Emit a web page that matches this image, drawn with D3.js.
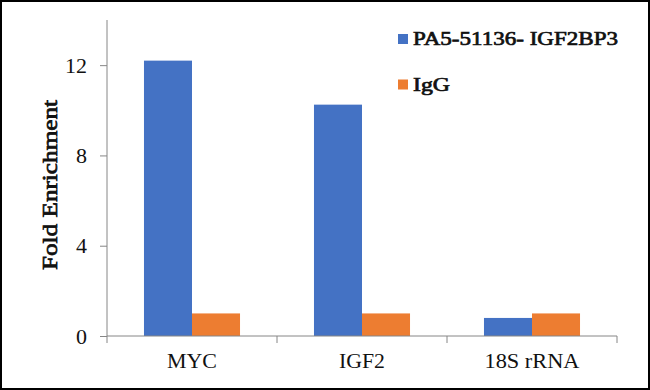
<!DOCTYPE html>
<html>
<head>
<meta charset="utf-8">
<script src="https://cdn.jsdelivr.net/npm/d3@7"></script>
<style>
  body { margin: 0; background: #fff; }
  svg { display: block; }
  svg text { font-family: "Liberation Serif", serif; font-weight: normal; }
</style>
</head>
<body>
<div class="chart"></div>
<script>
var categories = ["MYC", "IGF2", "18S rRNA"];
var categoryLabelWidths = [50, 46, 95];
var seriesNames = ["PA5-51136- IGF2BP3", "IgG"];
var legendLabelWidths = [205, 37];
var antibodyValues = [12.2, 10.25, 0.8];
var iggValues = [1.0, 1.0, 1.0];
var yTicks = [0, 4, 8, 12];
var colors = ["#4472C4", "#ED7D31"];

var svgWidth = 650;
var svgHeight = 390;
var margin = { top: 20, right: 33, bottom: 54, left: 107 };
var width = svgWidth - margin.left - margin.right;
var height = svgHeight - margin.top - margin.bottom;

var svg = d3.select(".chart")
  .append("svg")
  .attr("width", svgWidth)
  .attr("height", svgHeight);

// outer frame
svg.append("rect")
  .attr("x", 1).attr("y", 1)
  .attr("width", svgWidth - 2).attr("height", svgHeight - 2)
  .attr("fill", "#fff")
  .attr("stroke", "#000")
  .attr("stroke-width", 2);

var chartGroup = svg.append("g")
  .attr("transform", `translate(${margin.left}, ${margin.top})`);

var x0 = d3.scaleBand()
  .domain(categories)
  .range([0, width])
  .paddingInner(0.435)
  .paddingOuter(0.2175);

var x1 = d3.scaleBand()
  .domain(seriesNames)
  .range([0, x0.bandwidth()]);

var y = d3.scaleLinear()
  .domain([0, 14])
  .range([height, 0]);

var rows = categories.map(function (c, i) {
  return { cat: c, vals: [antibodyValues[i], iggValues[i]] };
});

// bars
var groups = chartGroup.selectAll(".grp")
  .data(rows)
  .enter()
  .append("g")
  .attr("transform", d => `translate(${x0(d.cat)},0)`);

groups.selectAll("rect")
  .data(d => d.vals.map((v, i) => ({ name: seriesNames[i], v: v, i: i })))
  .enter()
  .append("rect")
  .attr("x", d => x1(d.name))
  .attr("y", d => y(d.v))
  .attr("width", x1.bandwidth())
  .attr("height", d => height - y(d.v))
  .attr("fill", d => colors[d.i]);

// y axis
var leftAxis = d3.axisLeft(y).tickValues(yTicks).tickSize(7).tickPadding(13);
var yAxisG = chartGroup.append("g").call(leftAxis);
yAxisG.select(".domain").attr("stroke", "#868686").attr("d", `M0,0V${height}`);
yAxisG.selectAll(".tick line").attr("stroke", "#868686");
yAxisG.selectAll(".tick text")
  .attr("font-size", "20px")
  .attr("fill", "#111")
  .attr("dy", "0.36em")
  .attr("textLength", d => String(d).length * 11)
  .attr("lengthAdjust", "spacingAndGlyphs");

// x axis with boundary ticks
var xBounds = [0].concat(categories.map(c => x0(c) + x0.bandwidth() + x0.step() * x0.paddingInner() / 2));
xBounds[xBounds.length - 1] = width;
var xAxisG = chartGroup.append("g").attr("transform", `translate(0, ${height})`);
xAxisG.append("line")
  .attr("x1", 0).attr("x2", width)
  .attr("stroke", "#868686");
xAxisG.selectAll(".bt")
  .data(xBounds)
  .enter()
  .append("line")
  .attr("x1", d => d).attr("x2", d => d)
  .attr("y1", 0).attr("y2", 7)
  .attr("stroke", "#868686");
xAxisG.selectAll(".lbl")
  .data(categories)
  .enter()
  .append("text")
  .attr("x", (d, i) => x0(d) + x0.bandwidth() / 2 - categoryLabelWidths[i] / 2)
  .attr("y", 32)
  .attr("font-size", "20px")
  .attr("fill", "#111")
  .attr("textLength", (d, i) => categoryLabelWidths[i])
  .attr("lengthAdjust", "spacingAndGlyphs")
  .text(d => d);

// axis title (bold faked with a thin stroke)
chartGroup.append("text")
  .attr("transform", "rotate(-90)")
  .attr("x", -(185 - margin.top) - 85)
  .attr("y", 57 - margin.left)
  .attr("font-size", "20px")
  .attr("fill", "#111")
  .attr("stroke", "#111")
  .attr("stroke-width", 0.7)
  .attr("textLength", 170)
  .attr("lengthAdjust", "spacingAndGlyphs")
  .text("Fold Enrichment");

// legend
var legend = svg.append("g").attr("transform", "translate(398, 0)");
var legItems = legend.selectAll(".leg")
  .data(seriesNames)
  .enter()
  .append("g")
  .attr("transform", (d, i) => `translate(0, ${i * 45.5})`);
legItems.append("rect")
  .attr("x", 0).attr("y", 34)
  .attr("width", 10).attr("height", 10)
  .attr("fill", (d, i) => colors[i]);
legItems.append("text")
  .attr("x", 15)
  .attr("y", 45)
  .attr("font-size", "19px")
  .attr("fill", "#111")
  .attr("stroke", "#111")
  .attr("stroke-width", 0.7)
  .attr("textLength", (d, i) => legendLabelWidths[i])
  .attr("lengthAdjust", "spacingAndGlyphs")
  .text(d => d);
</script>
</body>
</html>
